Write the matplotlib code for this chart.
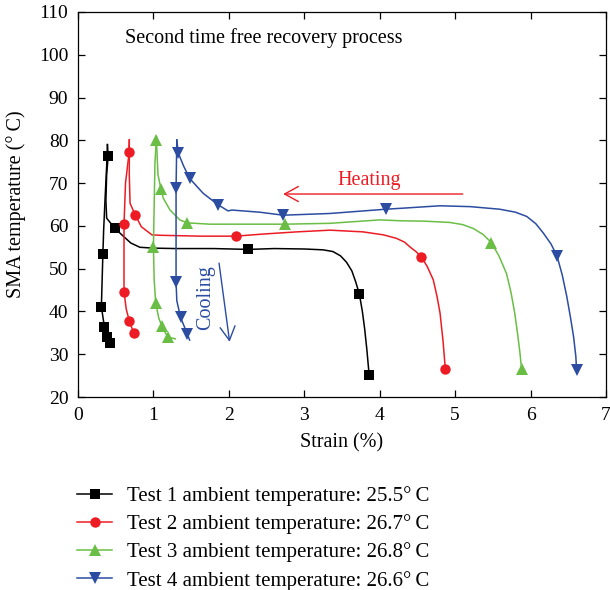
import matplotlib
matplotlib.use("Agg")
import matplotlib.pyplot as plt

plt.rcParams["font.family"] = ["Liberation Serif", "DejaVu Serif"]

# Test 1 (ambient 25.5 C)
t1_heat_strain = [3.86, 3.83, 3.80, 3.77, 3.73, 3.68, 3.63, 3.56, 3.48, 3.38, 3.25, 3.00,
                  2.60, 2.26, 1.80, 1.30, 1.00, 0.82, 0.70, 0.60, 0.49, 0.38, 0.37, 0.38,
                  0.40, 0.39]
t1_heat_temp = [25.1, 31.0, 36.0, 40.0, 44.1, 47.0, 49.5, 51.5, 53.0, 54.0, 54.4, 54.6,
                54.7, 54.5, 54.7, 54.7, 54.8, 55.0, 56.0, 57.6, 59.4, 61.8, 66.0, 72.0,
                76.3, 79.0]
t1_heat_marks = [0, 4, 13, 20, 24]
t1_cool_strain = [0.39, 0.38, 0.36, 0.34, 0.33, 0.32, 0.31, 0.35, 0.39, 0.42]
t1_cool_temp = [79.0, 74.0, 66.8, 59.0, 53.5, 47.4, 41.1, 36.4, 34.1, 32.6]
t1_cool_marks = [4, 6, 7, 8, 9]

# Test 2 (ambient 26.7 C)
t2_heat_strain = [4.87, 4.84, 4.80, 4.76, 4.71, 4.63, 4.55, 4.48, 4.40, 4.33, 4.22, 4.05,
                  3.78, 3.34, 2.90, 2.46, 2.09, 1.62, 1.10, 0.98, 0.84, 0.76, 0.69, 0.68,
                  0.68, 0.68]
t2_heat_temp = [26.5, 33.0, 39.6, 43.5, 47.4, 50.5, 52.8, 54.0, 55.1, 56.2, 57.1, 57.9,
                58.6, 59.0, 58.6, 58.1, 57.6, 57.6, 57.8, 57.9, 59.8, 62.5, 65.3, 72.0,
                77.3, 80.1]
t2_heat_marks = [0, 6, 16, 21, 24]
t2_cool_strain = [0.68, 0.67, 0.63, 0.61, 0.61, 0.61, 0.64, 0.68, 0.74]
t2_cool_temp = [80.1, 76.0, 70.0, 60.4, 52.0, 44.6, 40.5, 37.8, 34.9]
t2_cool_marks = [3, 5, 7, 8]

# Test 3 (ambient 26.8 C)
t3_heat_strain = [5.88, 5.86, 5.83, 5.79, 5.74, 5.68, 5.58, 5.48, 5.37, 5.24, 5.10, 4.93,
                  4.60, 4.27, 4.00, 3.34, 2.74, 2.20, 1.75, 1.45, 1.35, 1.22, 1.13, 1.10,
                  1.06, 1.04, 1.04]
t3_heat_temp = [26.5, 30.2, 34.5, 39.6, 44.5, 48.9, 53.0, 56.1, 58.0, 59.4, 60.3, 60.8,
                61.1, 61.2, 61.4, 60.6, 60.4, 60.4, 60.4, 60.7, 61.4, 63.7, 66.5, 68.6,
                72.0, 80.1, 80.9]
t3_heat_marks = [0, 7, 16, 19, 23, 25]
t3_cool_strain = [1.04, 1.02, 1.01, 1.00, 1.01, 1.03, 1.07, 1.11, 1.19, 1.29]
t3_cool_temp = [80.9, 74.6, 65.0, 55.1, 47.4, 42.0, 38.5, 36.6, 34.0, 33.6]
t3_cool_marks = [3, 5, 7, 8]

# Test 4 (ambient 26.6 C)
t4_heat_strain = [6.61, 6.60, 6.57, 6.53, 6.48, 6.42, 6.35, 6.27, 6.17, 6.07, 5.95, 5.80,
                  5.59, 5.20, 4.80, 4.27, 4.08, 3.34, 2.72, 2.41, 2.04, 1.99, 1.86, 1.66,
                  1.48, 1.40, 1.33, 1.31]
t4_heat_temp = [26.3, 29.5, 34.1, 38.5, 43.5, 48.5, 53.0, 55.8, 58.3, 60.5, 62.2, 63.2,
                63.9, 64.5, 64.7, 64.1, 63.9, 62.9, 62.5, 63.2, 63.7, 63.5, 64.9, 67.6,
                71.1, 74.0, 77.0, 80.1]
t4_heat_marks = [0, 6, 16, 18, 22, 24, 26]
t4_cool_strain = [1.31, 1.30, 1.30, 1.30, 1.31, 1.36, 1.45, 1.48]
t4_cool_temp = [80.1, 68.8, 58.0, 47.0, 42.5, 38.6, 34.7, 33.3]
t4_cool_marks = [1, 3, 5, 6]

legend_labels = [
    "Test 1 ambient temperature: 25.5°\u2009C",
    "Test 2 ambient temperature: 26.7°\u2009C",
    "Test 3 ambient temperature: 26.8°\u2009C",
    "Test 4 ambient temperature: 26.6°\u2009C",
]

tests = [
    (t1_heat_strain, t1_heat_temp, t1_heat_marks, t1_cool_strain, t1_cool_temp, t1_cool_marks, "#000000", "s", 6.5),
    (t2_heat_strain, t2_heat_temp, t2_heat_marks, t2_cool_strain, t2_cool_temp, t2_cool_marks, "#ed1c24", "o", 7.5),
    (t3_heat_strain, t3_heat_temp, t3_heat_marks, t3_cool_strain, t3_cool_temp, t3_cool_marks, "#6abe45", "^", 8.5),
    (t4_heat_strain, t4_heat_temp, t4_heat_marks, t4_cool_strain, t4_cool_temp, t4_cool_marks, "#2b4ca1", "v", 8.5),
]

fig = plt.figure(figsize=(6.1, 5.9), dpi=100)
ax = fig.add_axes([78 / 610, 193 / 590, 528 / 610, 385 / 590])

handles = []
for hs, ht, hm, cs, ct, cm, color, marker, msize in tests:
    (h,) = ax.plot(hs, ht, color=color, lw=1.1, marker=marker, markersize=msize,
                   markevery=hm, markeredgewidth=0)
    ax.plot(cs, ct, color=color, lw=1.1, marker=marker, markersize=msize,
            markevery=cm, markeredgewidth=0)
    handles.append(h)

ax.set_xlim(0, 7)
ax.set_ylim(20, 110)
ax.set_xticks(range(0, 8))
ax.set_yticks(range(20, 111, 10))
ax.tick_params(direction="in", top=True, right=True, length=5, width=0.9,
               labelsize=14, pad=7)
for spine in ax.spines.values():
    spine.set_linewidth(0.9)

ax.set_xlabel("Strain (%)", fontsize=14.5, labelpad=7)
ax.set_ylabel("SMA temperature (°\u2009C)", fontsize=14.5, labelpad=9)

ax.text(0.62, 103.9, "Second time free recovery process", fontsize=14.5,
        va="center", ha="left")

# heating direction
ax.annotate("", xy=(2.72, 67.45), xytext=(5.10, 67.45),
            arrowprops=dict(arrowstyle="->, head_length=0.55, head_width=0.3",
                            color="#ed1c24", lw=1.0, shrinkA=0, shrinkB=0,
                            mutation_scale=18))
ax.text(3.86, 70.7, "Heating", color="#ed1c24", fontsize=14.5, ha="center", va="center")

# cooling direction
ax.annotate("", xy=(2.01, 32.9), xytext=(1.87, 51.3),
            arrowprops=dict(arrowstyle="->, head_length=0.55, head_width=0.3",
                            color="#2b4ca1", lw=1.0, shrinkA=0, shrinkB=0,
                            mutation_scale=18))
ax.text(1.69, 43.3, "Cooling", color="#2b4ca1", fontsize=14.5, rotation=90,
        ha="center", va="center")

fig.legend(handles, legend_labels, loc="upper left", bbox_to_anchor=(77 / 610, 1 - 486 / 590),
           frameon=False, fontsize=15, handlelength=1.68, handletextpad=0.72,
           labelspacing=0.4, borderpad=0, borderaxespad=0)

fig.savefig("out.png", dpi=100)
